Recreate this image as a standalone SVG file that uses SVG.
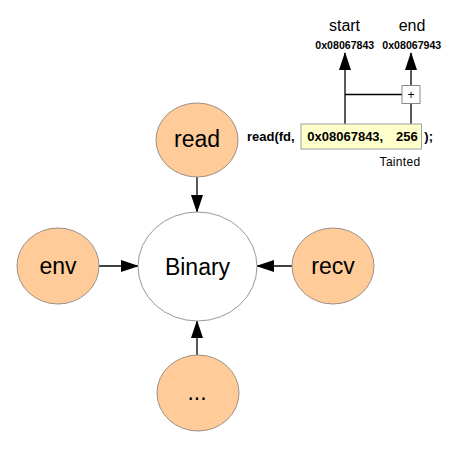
<svg xmlns="http://www.w3.org/2000/svg" width="450" height="456" viewBox="0 0 450 456">
<defs>
<marker id="ah" markerUnits="userSpaceOnUse" markerWidth="18" markerHeight="12" refX="17" refY="6" orient="auto">
<path d="M0,0 L18,6 L0,12 z" fill="#000"/>
</marker>
<style>
.src{fill:#FFCC99;stroke:#9c8f84;stroke-width:1}
.bin{fill:#fff;stroke:#999;stroke-width:1}
.lbl{font-family:"Liberation Sans",Arial,sans-serif;font-size:23px;fill:#000;text-anchor:middle}
.ln{stroke:#000;stroke-width:1.3;fill:none}
.arr{marker-end:url(#ah)}
.b{font-family:"Liberation Sans",Arial,sans-serif;font-weight:bold;fill:#000}
.r{font-family:"Liberation Sans",Arial,sans-serif;fill:#000}
</style>
</defs>
<rect width="450" height="456" fill="#fff"/>
<g id="connectors">
<line class="ln arr" x1="197" y1="177" x2="197" y2="212"/>
<line class="ln arr" x1="99" y1="266" x2="138" y2="266"/>
<line class="ln arr" x1="292" y1="266" x2="257" y2="266"/>
<line class="ln arr" x1="197" y1="355" x2="197" y2="321"/>
<line class="ln arr" x1="345" y1="124" x2="345" y2="53"/>
<line class="ln arr" x1="411" y1="86" x2="411" y2="53"/>
<line class="ln" x1="411" y1="124" x2="411" y2="104"/>
<line class="ln" x1="345" y1="94.5" x2="402" y2="94.5"/>
</g>
<g id="binary">
<ellipse class="bin" cx="197.5" cy="266.5" rx="59.5" ry="54.5"/>
<text class="lbl" x="197.5" y="274.5">Binary</text>
</g>
<g id="read">
<ellipse class="src" cx="197" cy="140" rx="41" ry="37"/>
<text class="lbl" x="197" y="147">read</text>
</g>
<g id="env">
<ellipse class="src" cx="58" cy="266" rx="41" ry="38"/>
<text class="lbl" x="58" y="274">env</text>
</g>
<g id="recv">
<ellipse class="src" cx="333" cy="266" rx="41" ry="38"/>
<text class="lbl" x="333" y="274">recv</text>
</g>
<g id="more">
<ellipse class="src" cx="198" cy="393" rx="41" ry="38"/>
<text class="lbl" x="197" y="400">...</text>
</g>
<g id="call">
<rect x="301" y="124" width="120.5" height="25" fill="#FFFFCC" stroke="#a0a0a0" stroke-width="1"/>
<text class="b" x="247" y="141" font-size="13">read(fd,</text>
<text class="b" x="307.3" y="141" font-size="13">0x08067843,</text>
<text class="b" x="396" y="141" font-size="13">256</text>
<text class="b" x="424.3" y="141" font-size="13">);</text>
<text class="r" x="400" y="166" font-size="12" text-anchor="middle" letter-spacing="0.3">Tainted</text>
</g>
<g id="plus">
<rect x="402" y="85.5" width="18" height="18" fill="#fff" stroke="#888" stroke-width="1"/>
<text class="r" x="411" y="99" font-size="12" text-anchor="middle">+</text>
</g>
<g id="start">
<text class="r" x="344.5" y="31" font-size="16" text-anchor="middle">start</text>
<text class="b" x="344.8" y="48.7" font-size="10.6" text-anchor="middle">0x08067843</text>
</g>
<g id="end">
<text class="r" x="412" y="31" font-size="16" text-anchor="middle">end</text>
<text class="b" x="411.8" y="48.7" font-size="10.6" text-anchor="middle">0x08067943</text>
</g>
</svg>
